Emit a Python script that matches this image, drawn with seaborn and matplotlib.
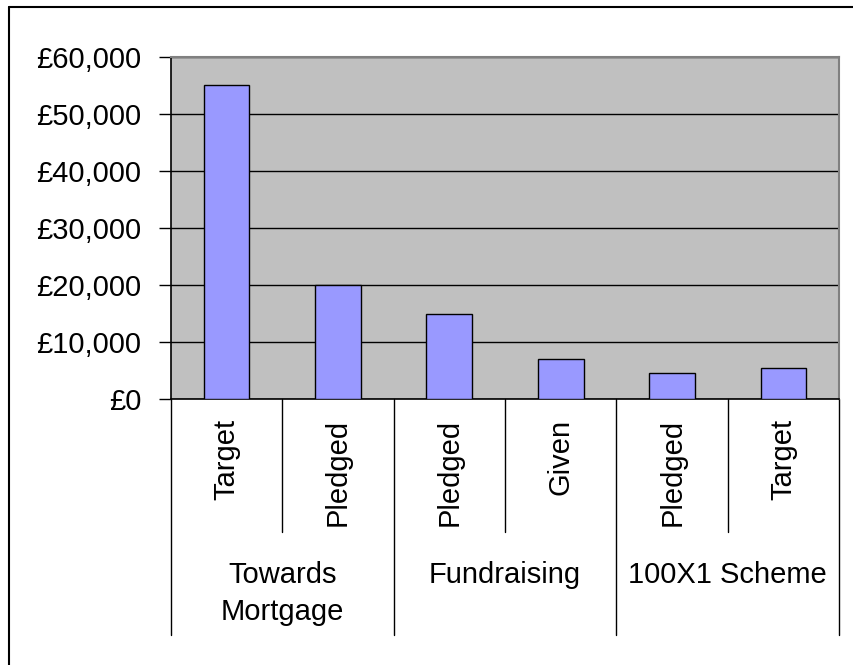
import matplotlib
matplotlib.use("Agg")
import matplotlib.pyplot as plt
import matplotlib.transforms as mtransforms
from matplotlib.lines import Line2D
import seaborn as sns
import pandas as pd

# ---- data ----
groups = ["Towards\nMortgage", "Fundraising", "100X1 Scheme"]
group_of_bar = [0, 0, 1, 1, 2, 2]
sub_labels = ["Target", "Pledged", "Pledged", "Given", "Pledged", "Target"]
values = [55000, 20000, 15000, 7000, 4600, 5400]
y_ticks = [0, 10000, 20000, 30000, 40000, 50000, 60000]
y_tick_labels = ["£0", "£10,000", "£20,000", "£30,000", "£40,000", "£50,000", "£60,000"]

sns.set_theme(style="white")
plt.rcParams['font.family'] = ['Liberation Sans', 'DejaVu Sans']
plt.rcParams['text.color'] = 'black'
plt.rcParams['xtick.color'] = 'black'
plt.rcParams['ytick.color'] = 'black'

df = pd.DataFrame({
    "key": [f"{i}" for i in range(len(values))],
    "value": values,
})

W, H = 854, 665
FS = 21
fig = plt.figure(figsize=(W / 100, H / 100), dpi=100)
fig.patch.set_facecolor("white")

left, right, bottom, top = 170.7, 839.3, 399.3, 56.7
ax = fig.add_axes([left / W, (H - bottom) / H, (right - left) / W, (bottom - top) / H])
ax.set_facecolor("#C0C0C0")

sns.barplot(data=df, x="key", y="value", color="#9999FF", width=0.41,
            edgecolor="black", linewidth=1.0, saturation=1, ax=ax, zorder=3)

ax.set_ylim(0, 60000)
ax.set_xlim(-0.5, len(values) - 0.5)
ax.set_yticks(y_ticks)
ax.set_yticklabels(y_tick_labels, fontsize=FS, color="black")
ax.yaxis.grid(True, color="black", linewidth=1.0, zorder=1)
ax.set_axisbelow(True)
ax.tick_params(axis="y", direction="out", length=9, width=1, color="black",
               labelcolor="black", pad=12, left=True)
ax.set_xlabel("")
ax.set_ylabel("")

# x tick labels (sub categories)
ax.set_xticks(range(len(values)))
ax.set_xticklabels(sub_labels, rotation=90, fontsize=FS, va="top", ha="center", color="black")
ax.tick_params(axis="x", length=0, pad=14, labelcolor="black")

for s in ["top", "right"]:
    ax.spines[s].set_color("#808080")
    ax.spines[s].set_linewidth(1.5)
for s in ["left", "bottom"]:
    ax.spines[s].set_color("black")
    ax.spines[s].set_linewidth(1.2)

# category dividers below the axis
trans = mtransforms.blended_transform_factory(ax.transData, ax.transAxes)
ax_h_px = bottom - top
short_y = -(531.7 - bottom) / ax_h_px
long_y = -(635 - bottom) / ax_h_px
n = len(values)
for b in range(n + 1):
    xpos = b - 0.5
    is_group_edge = (b == 0 or b == n or group_of_bar[b - 1] != group_of_bar[b])
    y_end = long_y if is_group_edge else short_y
    ax.add_line(Line2D([xpos, xpos], [0, y_end], transform=trans, color="black",
                       linewidth=1.0, clip_on=False))

# group labels
for gi, g in enumerate(groups):
    idx = [i for i, gg in enumerate(group_of_bar) if gg == gi]
    cx = (min(idx) + max(idx)) / 2
    ax.text(cx, -(561 - bottom) / ax_h_px, g, transform=trans, ha="center", va="top",
            fontsize=FS, linespacing=1.4, color="black")

# outer chart border (top and left edges visible)
fig.add_artist(Line2D([9 / W, 1.0], [1 - 7 / H, 1 - 7 / H], transform=fig.transFigure,
                      color="black", linewidth=1.5))
fig.add_artist(Line2D([9 / W, 9 / W], [1 - 7 / H, 0.0], transform=fig.transFigure,
                      color="black", linewidth=1.5))

fig.savefig("out.png", dpi=100)
